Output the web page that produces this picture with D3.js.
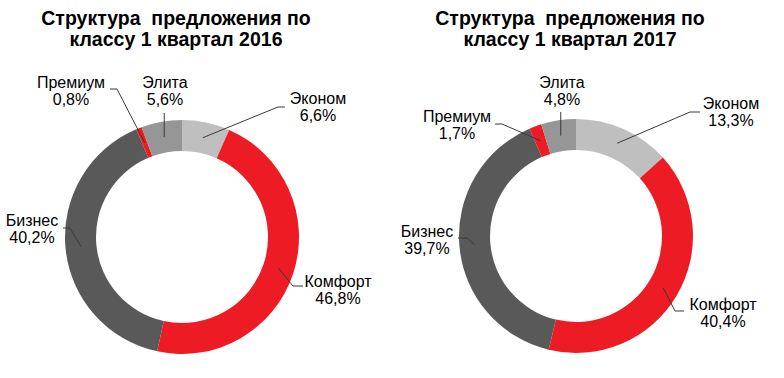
<!DOCTYPE html>
<html>
<head>
<meta charset="utf-8">
<script src="https://cdn.jsdelivr.net/npm/d3@7"></script>
<style>
  body { margin: 0; background: #fff; }
  text { font-family: "Liberation Sans", Arial, sans-serif; }
</style>
</head>
<body>
<div id="chart"></div>
<script>
//Data///////////////////////////////////////////////////////////////////////////////////////////

var categories = ["Эконом", "Комфорт", "Бизнес", "Премиум", "Элита"];
var values2016 = [6.6, 46.8, 40.2, 0.8, 5.6];
var values2017 = [13.3, 40.4, 39.7, 1.7, 4.8];
var titles = [
  ["Структура  предложения по", "классу 1 квартал 2016"],
  ["Структура  предложения по", "классу 1 квартал 2017"]
];

//Layout/////////////////////////////////////////////////////////////////////////////////////////

var width = 784, height = 378;
var outerR = 117, innerR = 86;

var colors = ["#bfbfbf", "#ed1c24", "#595959", "#ed1c24", "#969696"];

// hand placed labels: elbow of leader line, end of short tick, text centre and baseline
var layouts = [
  { cx: 182, cy: 237, titleX: 176, labels: [
      { ex: 278, ey: 107, hx: 285, tx: 318, ty: 104 },
      { ex: 293, ey: 286, hx: 303, tx: 338, ty: 287 },
      { ex: 70,  ey: 228, hx: 63,  tx: 32,  ty: 226 },
      { ex: 117, ey: 89,  hx: 110, tx: 71,  ty: 88 },
      { ex: null, ey: 113, hx: null, tx: 165, ty: 88 }
  ]},
  { cx: 576, cy: 236, titleX: 570, labels: [
      { ex: 690, ey: 112, hx: 700, tx: 731, ty: 109 },
      { ex: 675, ey: 311, hx: 684, tx: 723, ty: 310 },
      { ex: 467, ey: 238, hx: 458, tx: 427, ty: 237 },
      { ex: 502, ey: 124, hx: 495, tx: 457, ty: 122 },
      { ex: null, ey: 112, hx: null, tx: 562, ty: 88 }
  ]}
];

var svg = d3.select("#chart")
  .append("svg")
    .attr("width", width)
    .attr("height", height);

var pie = d3.pie().sort(null).value(function(d) { return d; });
var arc = d3.arc().innerRadius(innerR).outerRadius(outerR);

function fmt(v) { return v.toFixed(1).replace(".", ",") + "%"; }

[values2016, values2017].forEach(function(vals, k) {
  var lay = layouts[k];

  // Title
  svg.append("text")
    .attr("x", lay.titleX)
    .attr("y", 25)
    .style("text-anchor", "middle")
    .style("font-size", "19.5px")
    .style("font-weight", "bold")
    .style("white-space", "pre")
    .style("fill", "#000")
    .text(titles[k][0]);
  svg.append("text")
    .attr("x", lay.titleX)
    .attr("y", 46)
    .style("text-anchor", "middle")
    .style("font-size", "19.5px")
    .style("font-weight", "bold")
    .style("fill", "#000")
    .text(titles[k][1]);

  var g = svg.append("g")
    .attr("transform", "translate(" + lay.cx + "," + lay.cy + ")");

  var arcs = pie(vals);

  g.selectAll("path")
    .data(arcs)
    .enter()
    .append("path")
      .attr("d", arc)
      .style("fill", function(d, i) { return colors[i]; });

  // Leader lines + labels
  arcs.forEach(function(d, i) {
    var c = arc.centroid(d);
    var p0 = [lay.cx + c[0], lay.cy + c[1]];
    var l = lay.labels[i];
    var pts;
    if (l.ex === null) {
      pts = [p0, [p0[0], l.ey]];
    } else {
      pts = [p0, [l.ex, l.ey], [l.hx, l.ey]];
    }
    svg.append("path")
      .attr("d", d3.line()(pts))
      .attr("fill", "none")
      .attr("stroke", "#3a3a3a")
      .attr("stroke-width", 1);

    svg.append("text")
      .attr("x", l.tx)
      .attr("y", l.ty)
      .style("text-anchor", "middle")
      .style("font-size", "16px")
      .style("fill", "#000")
      .text(categories[i]);
    svg.append("text")
      .attr("x", l.tx)
      .attr("y", l.ty + 16.5)
      .style("text-anchor", "middle")
      .style("font-size", "16px")
      .style("fill", "#000")
      .text(fmt(vals[i]));
  });
});
</script>
</body>
</html>
